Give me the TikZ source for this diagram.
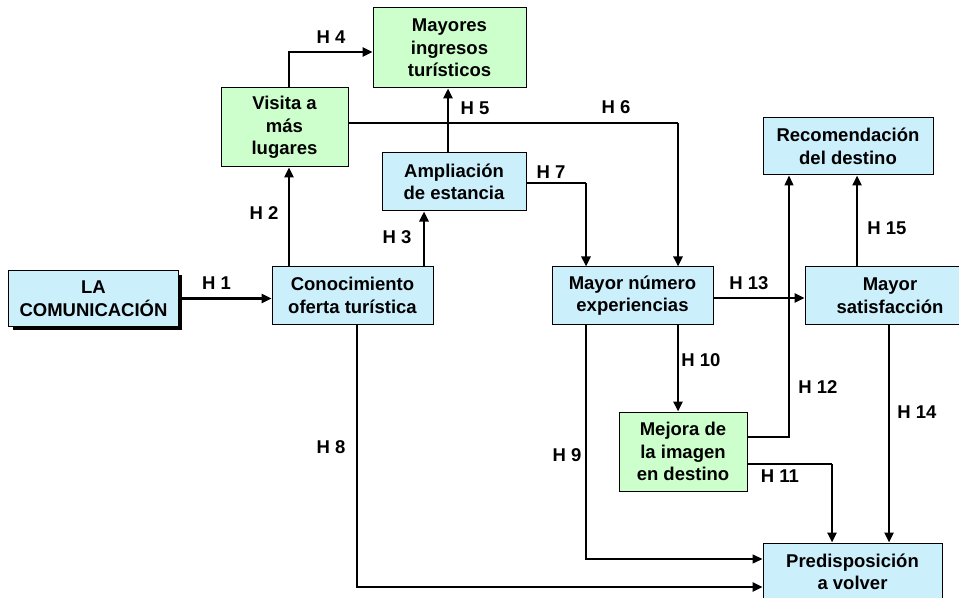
\documentclass[tikz,border=0pt]{standalone}
\usepackage{fontspec}
\setmainfont{Liberation Sans}
\usetikzlibrary{arrows.meta}
\begin{document}
\begin{tikzpicture}[x=1bp,y=-1bp,
  every node/.style={font=\fontsize{18.5bp}{22.5bp}\selectfont\bfseries},
  boxbase/.style={draw=black, line width=1bp, align=center, inner sep=0pt},
  cyanbox/.style={boxbase, fill=cyan!20},
  greenbox/.style={boxbase, fill=green!20},
  lbl/.style={inner sep=0pt},
  thk/.style={line width=2.4bp},
  thn/.style={line width=1.4bp},
  arr/.style={-{Triangle[length=10bp,width=9bp]}}
]
\useasboundingbox (0,0) rectangle (959,598);
% shadow of LA COMUNICACION
\fill[black] (13,275) rectangle (182,330);
\node[cyanbox, minimum width=169bp, minimum height=55bp] (com) at (93.5,298.5) {LA\\COMUNICACIÓN};
\node[cyanbox, minimum width=161bp, minimum height=57bp] (con) at (352.5,295.5) {Conocimiento\\oferta turística};
\node[greenbox, minimum width=127bp, minimum height=79bp] (vis) at (284.5,127.5) {Visita a\\más\\lugares};
\node[greenbox, minimum width=153bp, minimum height=80bp] (may) at (449.5,48) {Mayores\\ingresos\\turísticos};
\node[cyanbox, minimum width=144bp, minimum height=58bp] (amp) at (454,182) {Ampliación\\de estancia};
\node[cyanbox, minimum width=161bp, minimum height=57bp] (num) at (632.5,295.5) {Mayor número\\experiencias};
\node[cyanbox, minimum width=170bp, minimum height=57bp] (rec) at (848,146.5) {Recomendación\\del destino};
\node[cyanbox, minimum width=170bp, minimum height=57bp] (sat) at (890,295.5) {Mayor\\satisfacción};
\node[greenbox, minimum width=128bp, minimum height=79bp] (mej) at (683,451.5) {Mejora de\\la imagen\\en destino};
\node[cyanbox, minimum width=179bp, minimum height=58bp] (pre) at (852.5,572) {Predisposición\\a volver};
% helper coordinates
\coordinate (c289) at (289,52);
\coordinate (c424) at (424,0);
\coordinate (c448) at (448,0);
\coordinate (k6) at (678,123);
\coordinate (k7) at (586,183);
\coordinate (k8) at (357,587);
\coordinate (k9) at (586,559);
\coordinate (k11) at (832,464);
\coordinate (k12) at (789,437);
\coordinate (c889) at (889,0);
\coordinate (c857) at (857,0);
% connectors
\draw[thk,arr] (com.east) -- (com.east -| con.west);
\draw[thk,arr] (con.north -| c289) -- (vis.south -| c289);
\draw[thk,arr] (con.north -| c424) -- (amp.south -| c424);
\draw[thk,arr] (vis.north -| c289) |- (c289 -| may.west);
\draw[thk,arr] (amp.north -| c448) -- (may.south -| c448);
\draw[thn] (vis.east |- k6) -- (k6);
\draw[thk,arr] (k6) -- (num.north -| k6);
\draw[thn] (amp.east |- k7) -- (k7);
\draw[thk,arr] (k7) -- (num.north -| k7);
\draw[thk,arr] (con.south -| k8) |- (k8 -| pre.west);
\draw[thn,arr] (num.south -| k9) |- (k9 -| pre.west);
\draw[thk,arr] (num.south -| k6) -- (mej.north -| k6);
\draw[thn] (mej.east |- k11) -- (k11);
\draw[thk,arr] (k11) -- (pre.north -| k11);
\draw[thn,arr] (mej.east |- k12) -| (rec.south -| k12);
\draw[thk,arr] (num.east |- 0,298) -- (sat.west |- 0,298);
\draw[thk,arr] (sat.south -| c889) -- (pre.north -| c889);
\draw[thk,arr] (sat.north -| c857) -- (rec.south -| c857);
% labels
\node[lbl] (l1) at (216.5,283) {H 1};
\node[lbl] (l2) at (264,213) {H 2};
\node[lbl] (l3) at (397,237) {H 3};
\node[lbl] (l4) at (331,37) {H 4};
\node[lbl] (l5) at (475,108) {H 5};
\node[lbl] (l6) at (616,107) {H 6};
\node[lbl] (l7) at (551,172) {H 7};
\node[lbl] (l8) at (331,447) {H 8};
\node[lbl] (l9) at (567,455) {H 9};
\node[lbl] (l10) at (701,360) {H 10};
\node[lbl] (l11) at (780,476) {H 11};
\node[lbl] (l12) at (818,387) {H 12};
\node[lbl] (l13) at (749,283) {H 13};
\node[lbl] (l14) at (917,412) {H 14};
\node[lbl] (l15) at (887,228) {H 15};
\end{tikzpicture}
\end{document}
